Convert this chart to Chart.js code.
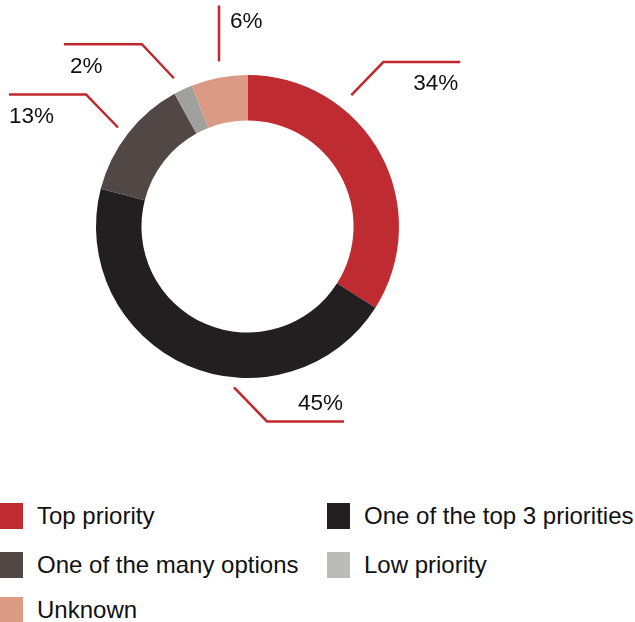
<!DOCTYPE html>
<html lang="en">
<head>
    <meta charset="UTF-8">
    <title>Priority</title>
    <script src="https://cdn.jsdelivr.net/npm/chart.js"></script>
    <style>
        body {
            margin: 0;
            background: #fff;
            font-family: "Liberation Sans", Arial, sans-serif;
        }
        #wrap {
            position: relative;
            width: 635px;
            height: 622px;
            overflow: hidden;
        }
        #chart {
            position: absolute;
            left: 0;
            top: 0;
            width: 635px;
            height: 460px;
        }
        .item {
            position: absolute;
            height: 26px;
            display: flex;
            align-items: center;
            font-size: 24px;
            color: #111;
            white-space: nowrap;
        }
        .item span {
            display: inline-block;
            width: 23px;
            height: 26px;
            margin-right: 14px;
        }
    </style>
</head>
<body>
<div id="wrap">
    <div id="chart"><canvas id="c"></canvas></div>
    <div id="legend"></div>
</div>
<script>
    const labels = ['Top priority', 'One of the top 3 priorities', 'One of the many options', 'Low priority', 'Unknown'];
    const values = [34, 45, 13, 2, 6];
    const colors = ['#be2b31', '#231f20', '#514845', '#a0a19f', '#db9a83'];
    const swatches = ['#be2b31', '#231f20', '#514845', '#bbbbba', '#db9a83'];

    // leader lines: angle from 12 o'clock, gap off the ring, elbow, run, text offset from line end
    const callouts = [
        { angle: 38.3, gap: 16, dx: 32, dy: -33, run: 77, tx: -2, ty: 22, align: 'right' },
        { angle: 184.8, gap: 10, dx: 33, dy: 34, run: 77, tx: -1, ty: -18, align: 'right' },
        { angle: 307.4, gap: 11.5, dx: -32, dy: -33, run: -77, tx: 0, ty: 22, align: 'left' },
        { angle: 333.6, gap: 14, dx: -32, dy: -34, run: -78, tx: 6, ty: 23, align: 'left' },
        { angle: 350.2, gap: 16, dx: 0, dy: -56, run: 0, tx: 11, ty: 16, align: 'left' }
    ];

    const leaderLines = {
        id: 'leaderLines',
        afterDatasetsDraw(chart) {
            const ctx = chart.ctx;
            const arcs = chart.getDatasetMeta(0).data;
            ctx.save();
            arcs.forEach((arc, i) => {
                const c = callouts[i];
                const a = c.angle * Math.PI / 180;
                const r = arc.outerRadius + c.gap;
                const x0 = arc.x + r * Math.sin(a);
                const y0 = arc.y - r * Math.cos(a);
                const x1 = x0 + c.dx;
                const y1 = y0 + c.dy;
                const x2 = x1 + c.run;
                ctx.beginPath();
                ctx.moveTo(x0, y0);
                ctx.lineTo(x1, y1);
                ctx.lineTo(x2, y1);
                ctx.strokeStyle = '#c0282e';
                ctx.lineWidth = 2.5;
                ctx.stroke();

                ctx.fillStyle = '#111';
                ctx.font = '22.5px "Liberation Sans", Arial, sans-serif';
                ctx.textAlign = c.align;
                ctx.textBaseline = 'middle';
                ctx.fillText(values[i] + '%', x2 + c.tx, y1 + c.ty);
            });
            ctx.restore();
        }
    };

    new Chart(document.getElementById('c'), {
        type: 'doughnut',
        data: {
            labels: labels,
            datasets: [{
                data: values,
                backgroundColor: colors,
                borderWidth: 0
            }]
        },
        options: {
            responsive: true,
            maintainAspectRatio: false,
            animation: false,
            cutout: '70%',
            layout: {
                padding: { left: 96, top: 75, right: 236, bottom: 82 }
            },
            plugins: {
                legend: { display: false },
                tooltip: { enabled: false }
            }
        },
        plugins: [leaderLines]
    });

    // two-column legend under the ring
    const legend = document.getElementById('legend');
    const cols = [0, 327];
    const rows = [503, 552, 597];
    labels.forEach((label, i) => {
        const item = document.createElement('div');
        item.className = 'item';
        item.style.left = cols[i % 2] + 'px';
        item.style.top = rows[Math.floor(i / 2)] + 'px';
        item.innerHTML = '<span style="background:' + swatches[i] + '"></span>' + label;
        legend.appendChild(item);
    });
</script>
</body>
</html>
